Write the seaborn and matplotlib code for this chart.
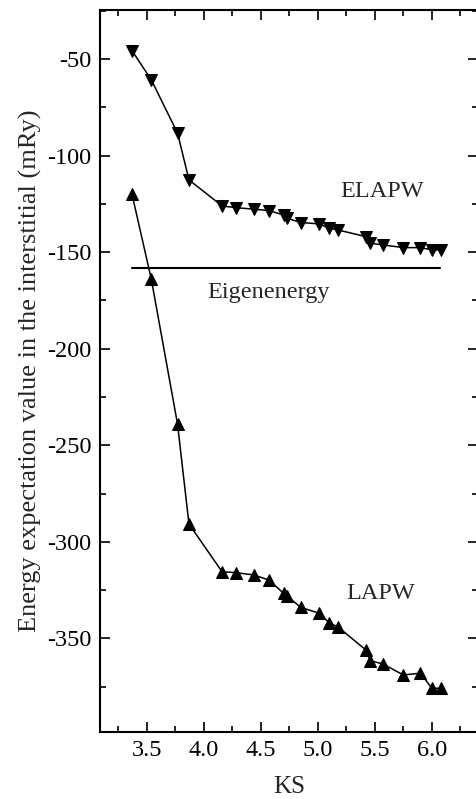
import matplotlib
matplotlib.use("Agg")
import matplotlib.pyplot as plt
import seaborn as sns
import pandas as pd
from matplotlib.ticker import MultipleLocator

# ---- data ----
ks = [3.37, 3.54, 3.77, 3.87, 4.16, 4.28, 4.44, 4.57, 4.70, 4.73, 4.85,
      5.01, 5.10, 5.18, 5.42, 5.46, 5.57, 5.75, 5.90, 6.00, 6.08]
elapw = [-45.5, -60.7, -88.3, -112.5, -126.0, -126.9, -127.7, -128.4, -130.7,
         -132.4, -134.6, -135.3, -137.6, -138.5, -141.9, -145.3, -146.2,
         -147.6, -147.6, -148.8, -148.8]
lapw = [-119.8, -164.0, -239.1, -290.8, -315.5, -316.0, -317.2, -319.8, -326.7,
        -328.1, -334.0, -337.0, -341.9, -344.3, -356.0, -361.6, -363.3,
        -369.0, -368.1, -375.9, -375.9]
eigen_x = [3.37, 6.07]
eigen_y = [-158.3, -158.3]

xticks = [3.5, 4.0, 4.5, 5.0, 5.5, 6.0]
xticklabels = ["3.5", "4.0", "4.5", "5.0", "5.5", "6.0"]
yticks = [-50, -100, -150, -200, -250, -300, -350]
yticklabels = ["-50", "-100", "-150", "-200", "-250", "-300", "-350"]

df_el = pd.DataFrame({"KS": ks, "E": elapw})
df_la = pd.DataFrame({"KS": ks, "E": lapw})
df_eig = pd.DataFrame({"KS": eigen_x, "E": eigen_y})

sns.set_style("ticks")
plt.rcParams["font.family"] = ["Liberation Serif", "DejaVu Serif"]
FS = 17.5

fig = plt.figure(figsize=(4.76, 7.99), dpi=100)
ax = fig.add_axes([100 / 476, 1 - 731.7 / 799, 377.5 / 476, (731.7 - 10) / 799])

sns.lineplot(data=df_el, x="KS", y="E", ax=ax, color="black", lw=1.1,
             marker="v", markersize=8, markeredgecolor="black", sort=False)
sns.lineplot(data=df_la, x="KS", y="E", ax=ax, color="black", lw=1.1,
             marker="^", markersize=8, markeredgecolor="black", sort=False)
sns.lineplot(data=df_eig, x="KS", y="E", ax=ax, color="black", lw=1.5,
             sort=False)

ax.set_xlim(3.09, 6.40)
ax.set_ylim(-398.4, -24.5)
ax.set_xticks(xticks)
ax.set_xticklabels(xticklabels)
ax.set_yticks(yticks)
ax.set_yticklabels(yticklabels)
ax.xaxis.set_minor_locator(MultipleLocator(0.25))
ax.yaxis.set_minor_locator(MultipleLocator(25))
ax.tick_params(which="both", direction="in", top=True, right=True,
               labelsize=FS, width=1.2, colors="black")
ax.tick_params(which="major", length=7, pad=6)
ax.tick_params(which="minor", length=4.5)
for s in ax.spines.values():
    s.set_linewidth(1.5)
    s.set_color("black")

ax.set_xlabel("KS", fontsize=18, labelpad=10.5)
ax.set_ylabel("Energy expectation value in the interstitial (mRy)",
              fontsize=19, labelpad=4)

ax.text(5.56, -118.6, "ELAPW", fontsize=FS, ha="center", va="center")
ax.text(4.57, -171.0, "Eigenenergy", fontsize=FS, ha="center", va="center")
ax.text(5.55, -326.7, "LAPW", fontsize=FS, ha="center", va="center")

fig.savefig("out.png", dpi=100)
